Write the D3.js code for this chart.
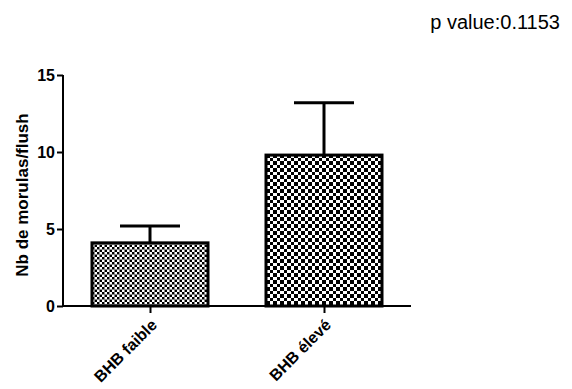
<!DOCTYPE html>
<html>
<head>
<meta charset="utf-8">
<script src="https://cdn.jsdelivr.net/npm/d3@7"></script>
<style>
  html, body { margin: 0; padding: 0; background: #fff; }
  svg { display: block; font-family: "Liberation Sans", Arial, sans-serif; }
</style>
</head>
<body>
<svg id="chart" width="572" height="389"></svg>
<script>
// Mean morulas per flush by BHB group, with SEM error bars
const categories = ["BHB faible", "BHB élevé"];
const means = [4.1, 9.8];
const sems = [1.1, 3.4];
const yTicks = [0, 5, 10, 15];
const pLabel = "p value:0.1153";
const yTitle = "Nb de morulas/flush";

const svg = d3.select("#chart");
const x0 = 63, x1 = 411, yBase = 306, yTop = 75;

const x = d3.scalePoint().domain(categories).range([x0, x1]).padding(0.5);
const y = d3.scaleLinear().domain([0, 15]).range([yBase, yTop]);
const barW = 116, capHalf = 30;

// Checker fills
const defs = svg.append("defs");
const fine = defs.append("pattern").attr("id", "fine")
  .attr("patternUnits", "userSpaceOnUse").attr("width", 5).attr("height", 5);
fine.append("rect").attr("width", 5).attr("height", 5).attr("fill", "#fff");
fine.append("rect").attr("x", 0).attr("y", 0).attr("width", 2).attr("height", 2).attr("fill", "#000");
fine.append("rect").attr("x", 2).attr("y", 2).attr("width", 2).attr("height", 2).attr("fill", "#000");
fine.append("rect").attr("x", 4).attr("y", 0).attr("width", 1).attr("height", 5).attr("fill", "#888");
fine.append("rect").attr("x", 0).attr("y", 4).attr("width", 5).attr("height", 1).attr("fill", "#888");

const coarse = defs.append("pattern").attr("id", "coarse")
  .attr("patternUnits", "userSpaceOnUse").attr("width", 7).attr("height", 7);
coarse.append("rect").attr("width", 7).attr("height", 7).attr("fill", "#fff");
coarse.append("rect").attr("x", 0).attr("y", 0).attr("width", 4).attr("height", 4).attr("fill", "#000");
coarse.append("rect").attr("x", 4).attr("y", 4).attr("width", 3).attr("height", 3).attr("fill", "#000");

const fills = ["url(#fine)", "url(#coarse)"];

// Error bars (drawn beneath bars so the stem starts at the bar top)
const eb = svg.append("g").attr("stroke", "#000").attr("stroke-width", 3);
categories.forEach((c, i) => {
  const cx = x(c);
  eb.append("line").attr("x1", cx).attr("x2", cx)
    .attr("y1", y(means[i])).attr("y2", y(means[i] + sems[i]));
  eb.append("line").attr("x1", cx - capHalf).attr("x2", cx + capHalf)
    .attr("y1", y(means[i] + sems[i])).attr("y2", y(means[i] + sems[i]));
});

// Bars
svg.append("g").selectAll("rect").data(categories).join("rect")
  .attr("x", d => x(d) - barW / 2)
  .attr("y", (d, i) => y(means[i]))
  .attr("width", barW)
  .attr("height", (d, i) => yBase - y(means[i]))
  .attr("fill", (d, i) => fills[i])
  .attr("stroke", "#000").attr("stroke-width", 3);

// Y axis
const yAxis = svg.append("g").attr("transform", `translate(${x0},0)`)
  .call(d3.axisLeft(y).tickValues(yTicks).tickSize(6).tickPadding(2).tickFormat(d3.format("d")));
yAxis.select(".domain").attr("stroke-width", 2).attr("d", `M0,${yTop}V${yBase}`);
yAxis.selectAll(".tick line").attr("stroke-width", 2);
yAxis.selectAll(".tick text").attr("font-size", 16).attr("font-weight", "bold")
  .attr("font-family", "Liberation Sans, Arial, sans-serif").attr("fill", "#000");

// X axis
const xAxis = svg.append("g").attr("transform", `translate(0,${yBase})`)
  .call(d3.axisBottom(x).tickSize(7).tickFormat(""));
xAxis.select(".domain").attr("stroke-width", 2).attr("d", `M${x0},0H${x1}`);
xAxis.selectAll(".tick line").attr("stroke-width", 2);

// Rotated category labels
svg.append("g").selectAll("text").data(categories).join("text")
  .attr("transform", d => `translate(${x(d) + 4},${yBase + 16}) rotate(-45)`)
  .attr("text-anchor", "end")
  .attr("dy", "0.35em")
  .attr("font-size", 16).attr("font-weight", "bold")
  .text(d => d);

// Y axis title
svg.append("text")
  .attr("transform", `translate(28,195) rotate(-90)`)
  .attr("text-anchor", "middle")
  .attr("font-size", 17).attr("font-weight", "bold")
  .text(yTitle);

// p value annotation
svg.append("text")
  .attr("x", 560).attr("y", 29)
  .attr("text-anchor", "end")
  .attr("font-size", 20)
  .text(pLabel);
</script>
</body>
</html>
